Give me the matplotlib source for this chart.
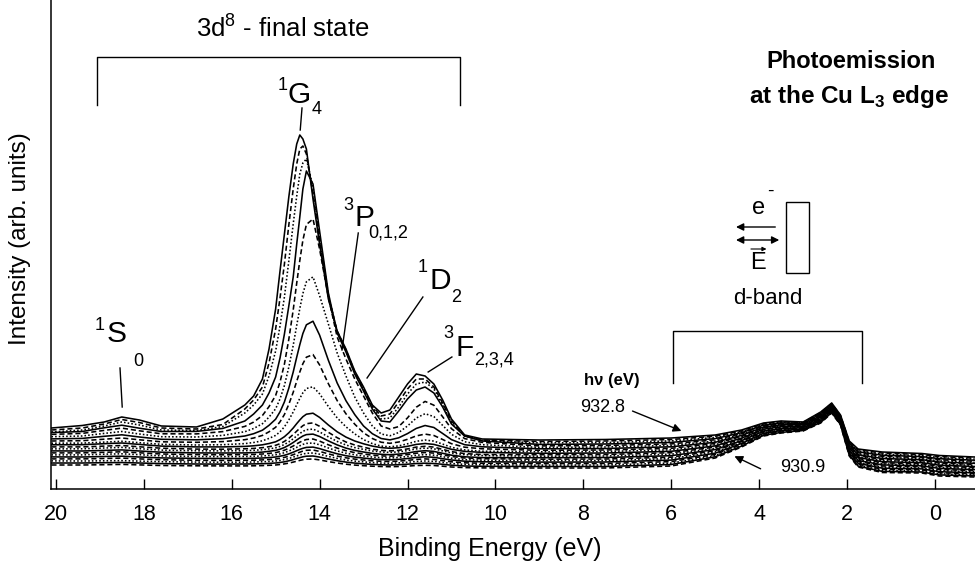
import matplotlib
matplotlib.use("Agg")
import matplotlib.pyplot as plt
from matplotlib.patches import Rectangle

plt.rcParams["font.family"] = ["Liberation Sans", "DejaVu Sans"]
plt.rcParams["mathtext.fontset"] = "custom"
plt.rcParams["mathtext.rm"] = "Liberation Sans"
plt.rcParams["mathtext.bf"] = "Liberation Sans:bold"

# binding energy grid (eV), shared by all spectra
binding_energy = [20.1, 19.4, 18.9, 18.5, 18.1, 17.6, 16.8, 16.2, 15.7, 15.5,
                  15.3, 15.15, 15.0, 14.9, 14.8, 14.7, 14.6, 14.52, 14.45, 14.38,
                  14.3, 14.15, 14.0, 13.8, 13.6, 13.4, 13.2, 13.0, 12.8, 12.6,
                  12.4, 12.2, 12.0, 11.8, 11.6, 11.4, 11.2, 11.0, 10.7, 10.3,
                  9.0, 7.5, 6.0, 5.0, 4.4, 3.9, 3.5, 3.0, 2.6, 2.35,
                  2.15, 1.95, 1.75, 1.2, 0.3, -0.1, -0.9]

# intensity (arb. units), one spectrum per photon energy
i_930_9 = [24.0, 24.0, 24.3, 24.6, 24.1, 23.5, 23.2, 23.1, 23.1, 23.2, 23.4, 23.7, 24.0, 24.5, 25.1, 25.9, 26.9, 27.8, 28.6, 29.3,
           29.8, 30.0, 29.1, 27.4, 26.0, 24.8, 23.9, 23.3, 22.8, 22.5, 22.3, 22.5, 22.9, 23.5, 23.7, 23.5, 22.8, 22.0, 21.4, 21.1,
           21, 21, 23, 31, 42, 53, 56, 58, 66, 76, 64, 33, 22, 16.5, 16, 13, 12]
i_931_0 = [26.0, 26.0, 26.3, 26.5, 26.0, 25.4, 25.0, 24.9, 25.0, 25.1, 25.3, 25.6, 26.0, 26.5, 27.2, 28.2, 29.4, 30.5, 31.3, 32.2,
           32.8, 33.0, 31.9, 30.0, 28.3, 26.9, 25.9, 25.2, 24.6, 24.2, 24.0, 24.3, 24.8, 25.5, 25.8, 25.5, 24.7, 23.8, 23.0, 22.7,
           22.5, 22.5, 24.5, 32.2, 42.9, 53.7, 56.6, 58.5, 66.6, 76.5, 64.5, 33.8, 22.9, 17.6, 17.0, 14.1, 13.1]
i_931_1 = [28.1, 28.0, 28.2, 28.4, 27.9, 27.3, 26.9, 26.8, 26.8, 27.0, 27.2, 27.6, 28.0, 28.6, 29.4, 30.5, 31.9, 33.1, 34.1, 35.0,
           35.7, 36.0, 34.8, 32.6, 30.6, 29.0, 27.9, 27.1, 26.4, 25.9, 25.8, 26.1, 26.7, 27.5, 28.0, 27.6, 26.6, 25.5, 24.6, 24.2,
           23.9, 24.0, 25.9, 33.4, 43.8, 54.4, 57.3, 58.9, 67.2, 77.1, 65.1, 34.6, 23.9, 18.7, 18.1, 15.2, 14.1]
i_931_2 = [30.1, 30.1, 30.5, 30.9, 30.1, 29.3, 28.7, 28.6, 28.7, 28.8, 29.1, 29.5, 30.0, 30.7, 31.6, 32.8, 34.3, 35.7, 36.8, 37.9,
           38.7, 39.0, 37.6, 35.1, 32.9, 31.2, 29.9, 29.0, 28.2, 27.7, 27.5, 27.9, 28.6, 29.6, 30.1, 29.6, 28.4, 27.2, 26.2, 25.7,
           25.4, 25.5, 27.4, 34.6, 44.7, 55.1, 57.9, 59.4, 67.7, 77.6, 65.6, 35.4, 24.8, 19.7, 19.1, 16.2, 15.2]
i_931_3 = [32.1, 32.0, 32.5, 32.8, 32.0, 31.1, 30.6, 30.5, 30.5, 30.7, 31.0, 31.4, 32.0, 32.8, 33.7, 35.1, 36.8, 38.3, 39.6, 40.7,
           41.6, 41.9, 40.4, 37.7, 35.2, 33.3, 31.9, 30.9, 30.0, 29.4, 29.2, 29.6, 30.5, 31.6, 32.2, 31.7, 30.3, 29.0, 27.8, 27.2,
           26.9, 27.0, 28.9, 35.8, 45.6, 55.7, 58.5, 59.9, 68.3, 78.1, 66.1, 36.2, 25.8, 20.8, 20.1, 17.3, 16.2]
i_931_4 = [34.1, 34.1, 34.8, 35.2, 34.3, 33.1, 32.5, 32.4, 32.5, 32.7, 33.0, 33.6, 34.2, 35.1, 36.3, 38.0, 39.9, 41.7, 43.2, 44.6,
           45.6, 46.0, 44.2, 41.0, 38.1, 35.8, 34.2, 33.0, 31.9, 31.3, 31.0, 31.5, 32.5, 33.7, 34.4, 33.8, 32.3, 30.7, 29.4, 28.8,
           28.4, 28.5, 30.4, 37.1, 46.5, 56.4, 59.2, 60.4, 68.9, 78.6, 66.6, 36.9, 26.7, 21.9, 21.1, 18.4, 17.3]
i_931_5 = [36.1, 36.1, 36.7, 37.2, 36.2, 35.0, 34.4, 34.2, 34.4, 34.6, 35.0, 35.6, 36.4, 37.4, 38.8, 40.7, 43.0, 45.1, 46.8, 48.3,
           49.5, 50.0, 47.9, 44.2, 40.9, 38.3, 36.4, 35.0, 33.8, 33.1, 32.8, 33.3, 34.4, 35.8, 36.5, 35.9, 34.2, 32.5, 31.0, 30.3,
           29.8, 30.0, 31.8, 38.3, 47.4, 57.1, 59.8, 60.8, 69.5, 79.2, 67.2, 37.7, 27.7, 23.0, 22.2, 19.5, 18.3]
i_931_6 = [38.1, 38.0, 38.6, 39.1, 38.0, 36.8, 36.1, 36.0, 36.1, 36.4, 36.9, 37.7, 38.6, 39.8, 41.5, 43.8, 46.5, 49.0, 51.1, 53.0,
           54.4, 54.9, 52.5, 48.1, 44.1, 40.9, 38.6, 37.0, 35.6, 34.7, 34.3, 34.9, 36.0, 37.5, 38.3, 37.6, 35.7, 33.8, 32.2, 31.4,
           31.3, 31.5, 33.3, 39.5, 48.3, 57.8, 60.4, 61.3, 70.1, 79.7, 67.7, 38.5, 28.6, 24.1, 23.2, 20.6, 19.4]
i_931_7 = [40.1, 40.2, 41.0, 41.6, 40.3, 38.9, 38.2, 38.1, 38.3, 38.7, 39.3, 40.1, 41.2, 42.6, 44.5, 47.1, 50.2, 53.1, 55.5, 57.6,
           59.3, 59.9, 57.1, 52.1, 47.6, 44.0, 41.4, 39.6, 38.0, 37.0, 36.6, 37.1, 38.4, 40.1, 40.9, 40.2, 38.1, 36.0, 34.3, 33.4,
           32.8, 33.0, 34.8, 40.7, 49.2, 58.5, 61.1, 61.8, 70.6, 80.2, 68.2, 39.3, 29.6, 25.1, 24.2, 21.6, 20.4]
i_931_8 = [42.1, 42.1, 42.9, 43.5, 42.2, 40.8, 39.9, 39.8, 40.2, 40.6, 41.3, 42.3, 43.7, 45.3, 47.6, 50.7, 54.5, 57.9, 60.7, 63.3,
           65.3, 66.1, 62.7, 56.7, 51.3, 47.0, 44.0, 41.8, 39.8, 38.6, 38.1, 38.7, 40.1, 41.9, 42.7, 41.9, 39.6, 37.4, 35.4, 34.5,
           34.3, 34.5, 36.3, 41.9, 50.1, 59.2, 61.7, 62.3, 71.2, 80.7, 68.7, 40.1, 30.5, 26.2, 25.2, 22.7, 21.5]
i_931_9 = [44.2, 44.3, 45.3, 46.0, 44.6, 42.9, 42.1, 42.1, 42.6, 43.2, 44.2, 45.5, 47.2, 49.4, 52.3, 56.2, 61.0, 65.4, 69.0, 72.3,
           74.8, 75.8, 71.6, 64.0, 57.2, 51.9, 48.0, 45.2, 42.9, 41.4, 40.7, 41.3, 42.7, 44.6, 45.5, 44.6, 42.2, 39.7, 37.6, 36.6,
           35.7, 36.0, 37.7, 43.1, 50.9, 59.8, 62.3, 62.7, 71.8, 81.3, 69.3, 40.9, 31.5, 27.3, 26.3, 23.8, 22.5]
i_932_0 = [45.8, 45.9, 46.9, 47.7, 46.3, 44.7, 44.0, 44.3, 45.4, 46.5, 48.2, 50.6, 53.6, 57.2, 62.2, 69.0, 77.0, 84.4, 90.6, 96.2,
           100.5, 102.2, 95.2, 82.5, 71.1, 62.2, 55.1, 49.4, 45.4, 42.9, 42.2, 43.1, 45.2, 47.7, 49.0, 47.9, 44.9, 41.7, 39.1, 37.8,
           37.2, 37.5, 39.2, 44.3, 51.8, 60.5, 62.9, 63.2, 72.4, 81.8, 69.8, 41.7, 32.4, 28.4, 27.3, 24.9, 23.6]
i_932_1 = [48.0, 48.3, 49.8, 51.0, 49.2, 47.2, 46.7, 47.4, 49.3, 51.0, 53.6, 57.2, 61.7, 67.2, 74.5, 84.7, 96.7, 107.8, 117.0, 125.3,
           131.8, 134.4, 124.1, 105.3, 88.4, 75.2, 64.8, 56.2, 50.5, 46.8, 45.7, 47.0, 49.7, 53.1, 54.9, 53.5, 49.5, 45.3, 41.8, 40.2,
           38.7, 39.0, 40.7, 45.5, 52.7, 61.2, 63.6, 63.7, 72.9, 82.3, 70.3, 42.5, 33.4, 29.5, 28.3, 25.9, 24.6]
i_932_2 = [50.1, 50.6, 52.7, 54.2, 52.0, 49.7, 49.2, 50.3, 53.0, 55.3, 58.8, 63.7, 69.8, 77.2, 87.1, 100.8, 117.0, 131.9, 144.3, 155.5,
           164.2, 167.8, 153.9, 128.7, 106.0, 88.3, 74.4, 63.0, 55.3, 50.5, 49.1, 51.2, 55.4, 60.6, 63.5, 61.5, 55.5, 49.4, 44.3, 42.2,
           40.2, 40.5, 42.2, 46.7, 53.6, 61.9, 64.2, 64.2, 73.5, 82.8, 70.8, 43.3, 34.3, 30.5, 29.3, 27.0, 25.7]
i_932_3 = [52.3, 53.0, 55.6, 57.5, 55.0, 52.3, 52.0, 53.6, 57.3, 60.5, 65.3, 71.9, 80.2, 90.1, 103.5, 121.9, 143.6, 163.7, 180.4, 195.5,
           207.2, 212.1, 193.4, 165, 136, 113, 92, 76, 63, 55, 53.2, 56.5, 63.0, 71.0, 75.3, 72.4, 63.6, 54.7, 47.2, 44.3,
           41.6, 42.0, 43.6, 47.9, 54.5, 62.6, 64.8, 64.6, 74.1, 83.4, 71.4, 44.1, 35.3, 31.6, 30.4, 28.1, 26.7]
i_932_4 = [54.6, 55.6, 58.6, 60.9, 58.2, 55.2, 55.1, 57.4, 62.6, 66.9, 73.5, 82.4, 93.5, 107.0, 124.9, 149.7, 179.0, 206.0, 228.5, 248.8,
           264.5, 270, 240, 192, 152, 130, 110, 93, 76, 63, 60, 62.4, 71.1, 81.8, 87.6, 83.8, 72.2, 60.3, 50.4, 46.6,
           43.1, 43.5, 45.1, 49.2, 55.4, 63.3, 65.5, 65.1, 74.7, 83.9, 71.9, 44.8, 36.2, 32.7, 31.4, 29.2, 27.8]
i_932_5 = [56.4, 57.5, 61.2, 63.8, 60.8, 57.5, 57.6, 60.6, 68, 75, 84, 96, 112, 131, 155, 183, 212, 245, 272, 300,
           318, 305, 258, 196, 156, 137, 115, 98, 80, 68, 67, 78, 90, 99, 102, 96, 82, 65, 53, 48,
           44.6, 45.0, 46.6, 50.4, 56.3, 63.9, 66.1, 65.6, 75.3, 84.4, 72.4, 45.6, 37.2, 33.8, 32.4, 30.3, 28.8]
i_932_6 = [57, 59, 63, 67, 64, 59, 58.5, 62.5, 76, 84, 95, 113, 138, 163, 192, 228, 265, 293, 315, 326,
           330, 302, 252, 194, 157, 138, 116, 99.5, 82, 70, 71, 82, 95, 105, 107, 100, 84, 66, 53, 48.5,
           46.1, 46.5, 48.1, 51.6, 57.2, 64.6, 66.7, 66.1, 75.8, 84.9, 72.9, 46.4, 38.1, 34.8, 33.4, 31.3, 29.9]
i_932_7 = [59, 61, 65, 69.5, 66.5, 61, 60, 64.5, 80, 89, 102, 126, 160, 191, 225, 264, 300, 325, 340, 343,
           335, 295, 248, 192, 158, 139, 117, 100.5, 83, 73, 75, 87, 100, 110, 110, 102, 86, 68, 53, 49,
           47.5, 48, 49.5, 52.8, 58.1, 65.3, 67.4, 66.5, 76.4, 85.5, 73.5, 47.2, 39.1, 35.9, 34.5, 32.4, 30.9]
i_932_8 = [61, 63.5, 67, 72, 69, 63, 62, 70, 84, 93, 110, 140, 180, 218, 255, 292, 325, 345, 354, 350,
           340, 290, 245, 190, 158, 140, 118, 102, 84, 76, 79, 92, 105, 115, 113, 105, 89, 70, 54, 50,
           49, 49.5, 51, 54, 59, 66, 68, 67, 77, 86, 74, 48, 40, 37, 35.5, 33.5, 32]

photon_energies = [930.9, 931.0, 931.1, 931.2, 931.3, 931.4, 931.5, 931.6, 931.7, 931.8,
                   931.9, 932.0, 932.1, 932.2, 932.3, 932.4, 932.5, 932.6, 932.7, 932.8]
spectra = [i_930_9, i_931_0, i_931_1, i_931_2, i_931_3, i_931_4, i_931_5, i_931_6, i_931_7, i_931_8,
           i_931_9, i_932_0, i_932_1, i_932_2, i_932_3, i_932_4, i_932_5, i_932_6, i_932_7, i_932_8]
x_ticks = [20, 18, 16, 14, 12, 10, 8, 6, 4, 2, 0]

# solid / dashed / dotted, counted from the top spectrum down
dash_patterns = [None, (3.2, 1.8), (1.0, 1.3)]

fig = plt.figure(figsize=(9.75, 5.61), dpi=100)
ax = fig.add_axes([51 / 975, 72 / 561, 924 / 975, 489 / 561])

n = len(spectra)
for k, (hv, y) in enumerate(zip(photon_energies, spectra)):
    dash = dash_patterns[(n - 1 - k) % 3]
    line, = ax.plot(binding_energy, y, color="black", lw=1.15, label="%.1f eV" % hv)
    if dash is not None:
        line.set_dashes(dash)

ax.set_xlim(20.11, -0.91)
ax.set_ylim(0, 489)
ax.set_xticks(x_ticks)
ax.set_yticks([])
ax.tick_params(axis="x", direction="in", length=7, width=1, labelsize=15.5, pad=11)
for side in ("top", "right"):
    ax.spines[side].set_visible(False)
for side in ("left", "bottom"):
    ax.spines[side].set_linewidth(1.1)

ax.set_xlabel("Binding Energy (eV)", fontsize=18)
ax.xaxis.set_label_coords(0.475, -0.098)
ax.set_ylabel("Intensity (arb. units)", fontsize=17.5)
ax.yaxis.set_label_coords(-0.022, 0.513)

k_line = dict(color="black", lw=1.0)

# 3d8 final-state bracket
ax.plot([19.06, 19.06, 10.80, 10.80], [384, 432, 432, 384], **k_line)
ax.text(14.83, 461, "3d$^{8}$ - final state", fontsize=18.5, ha="center", va="center")

# title
ax.text(1.90, 427, "Photoemission", fontsize=17, fontweight="bold", ha="center", va="center")
ax.text(1.95, 392, r"at the Cu L$_{\mathbf{3}}$ edge", fontsize=17.5, fontweight="bold",
        ha="center", va="center")


def term_label(xy, sup, letter, sub, sup_off, sub_off, tip_from, tip_to):
    ax.text(xy[0], xy[1], letter, fontsize=21.5, ha="center", va="center")
    ax.annotate(sup, xy, xytext=sup_off, textcoords="offset pixels",
                fontsize=13, ha="center", va="center")
    ax.annotate(sub, xy, xytext=sub_off, textcoords="offset pixels",
                fontsize=13, ha="left", va="center")
    ax.plot([tip_from[0], tip_to[0]], [tip_from[1], tip_to[1]], **k_line)


term_label((14.47, 394), "1", "G", "4", (-16, 10), (13, -14), (14.40, 381), (14.44, 359))
term_label((12.97, 271), "3", "P", "0,1,2", (-17, 13), (3, -15), (13.12, 256), (13.49, 139))
term_label((11.26, 208), "1", "D", "2", (-17, 14), (11, -16), (11.65, 192), (12.92, 111))
term_label((10.69, 141), "3", "F", "2,3,4", (-17, 15), (9, -12), (10.99, 132), (11.53, 117))
term_label((18.61, 155), "1", "S", "0", (-17, 8), (16, -27), (18.54, 121), (18.49, 82))

# electron / field sketch
ax.add_patch(Rectangle((3.39, 216), -0.53, 71, fill=False, lw=1.0, edgecolor="black"))
ax.text(4.02, 281, "e", fontsize=17, ha="center", va="center")
ax.text(3.75, 298, "-", fontsize=14, ha="center", va="center")
ax.text(4.02, 226, "E", fontsize=17, ha="center", va="center")
ax.annotate("", xy=(4.59, 262), xytext=(3.57, 262),
            arrowprops=dict(arrowstyle="-|>", color="black", lw=1.0, mutation_scale=11))
ax.annotate("", xy=(4.59, 249), xytext=(3.48, 249),
            arrowprops=dict(arrowstyle="<|-|>", color="black", lw=1.0, mutation_scale=11))
ax.annotate("", xy=(3.77, 240), xytext=(4.25, 240),
            arrowprops=dict(arrowstyle="-|>", color="black", lw=0.8, mutation_scale=6))

# d-band bracket
ax.plot([5.96, 5.96, 1.66, 1.66], [106, 158, 158, 106], **k_line)
ax.text(3.80, 191, "d-band", fontsize=16, ha="center", va="center")

# photon energy labels
ax.text(7.35, 108, "hν (eV)", fontsize=12, fontweight="bold", ha="center", va="center")
ax.text(7.57, 82, "932.8", fontsize=13, ha="center", va="center")
ax.annotate("", xy=(5.71, 57), xytext=(6.94, 79),
            arrowprops=dict(arrowstyle="-|>", color="black", lw=1.0, mutation_scale=12))
ax.text(3.00, 22, "930.9", fontsize=13, ha="center", va="center")
ax.annotate("", xy=(4.62, 34), xytext=(3.91, 19),
            arrowprops=dict(arrowstyle="-|>", color="black", lw=1.0, mutation_scale=12))

fig.savefig("out.png", dpi=100)
